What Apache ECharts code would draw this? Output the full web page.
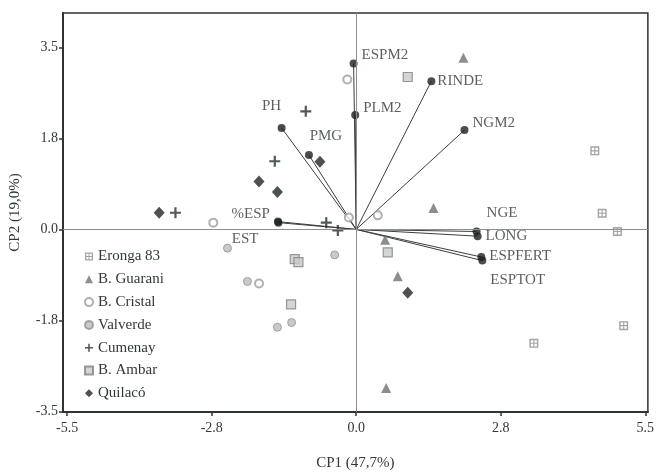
<!DOCTYPE html>
<html>
<head>
<meta charset="utf-8">
<script src="https://cdn.jsdelivr.net/npm/echarts@6/dist/echarts.min.js"></script>
<style>
html,body{margin:0;padding:0;background:#fff;}
#chart{width:657px;height:476px;}
</style>
</head>
<body>
<div id="chart"></div>
<script>
// ---- Data ----
const xTicks = [-5.5, -2.75, 0, 2.75, 5.5];
const yTicks = [-3.5, -1.75, 0, 1.75, 3.5];

const erongaPts   = [[4.54, 1.51], [4.68, 0.31], [4.97, -0.04], [5.09, -1.85], [3.38, -2.19]];
const guaraniPts  = [[2.04, 3.30], [1.47, 0.41], [0.55, -0.20], [0.79, -0.90], [0.57, -3.05]];
const cristalPts  = [[-0.17, 2.88], [-0.14, 0.23], [0.41, 0.27], [-2.72, 0.13], [-1.85, -1.04]];
const valverdePts = [[-2.45, -0.36], [-2.07, -1.00], [-0.41, -0.49], [-1.50, -1.88], [-1.23, -1.79]];
const cumenayPts  = [[-0.96, 2.27], [-1.55, 1.31], [-3.44, 0.32], [-0.57, 0.13], [-0.35, -0.02]];
const ambarPts    = [[0.98, 2.93], [0.60, -0.44], [-1.17, -0.57], [-1.10, -0.63], [-1.24, -1.44]];
const quilacoPts  = [[-1.85, 0.92], [-1.50, 0.72], [-3.75, 0.32], [-0.69, 1.30], [0.98, -1.22]];

const varNames = ['ESPM2', 'PLM2', 'RINDE', 'NGM2', 'PH', 'PMG', '%ESP', 'EST', 'NGE', 'LONG', 'ESPFERT', 'ESPTOT'];
const varX = [-0.05, -0.02, 1.43, 2.06, -1.42, -0.90, -1.49, -1.48, 2.29, 2.31, 2.38, 2.40];
const varY = [3.19, 2.20, 2.85, 1.91, 1.95, 1.43, 0.15, 0.13, -0.04, -0.13, -0.53, -0.60];

// ---- Styles ----
const labelPlace = {
  'ESPM2':   {position: 'right', offset: [0, -8]},
  'PLM2':    {position: 'right', offset: [0, -7]},
  'RINDE':   {position: 'right', offset: [-2, 0]},
  'NGM2':    {position: 'right', offset: [0, -7]},
  'PH':      {position: 'top',   offset: [-10, -6]},
  'PMG':     {position: 'top',   offset: [17, -3]},
  '%ESP':    {position: 'left',  offset: [0, -8]},
  'EST':     {position: 'left',  offset: [-12, 16]},
  'NGE':     {position: 'right', offset: [2, -18]},
  'LONG':    {position: 'right', offset: [0, 0]},
  'ESPFERT': {position: 'right', offset: [0, -1]},
  'ESPTOT':  {position: 'right', offset: [0, 19]}
};

const FONT = 'Liberation Serif';
const TXT = '#2f3938';

const symEronga = 'path://M0,0L10,0L10,10L0,10Z M1.6,1.6L1.6,4.4L4.4,4.4L4.4,1.6Z M5.6,1.6L5.6,4.4L8.4,4.4L8.4,1.6Z M1.6,5.6L1.6,8.4L4.4,8.4L4.4,5.6Z M5.6,5.6L5.6,8.4L8.4,8.4L8.4,5.6Z';
const symPlus = 'path://M4,0L6,0L6,4L10,4L10,6L6,6L6,10L4,10L4,6L0,6L0,4L4,4Z';

const vecLines = varNames.map((n, i) => ({coords: [[0, 0], [varX[i], varY[i]]]}));
const vecPts = varNames.map((n, i) => ({
  name: n,
  value: [varX[i], varY[i]],
  label: Object.assign({show: true, formatter: n}, labelPlace[n])
}));

const chart = echarts.init(document.getElementById('chart'), null, {renderer: 'canvas'});
chart.setOption({
  animation: false,
  backgroundColor: '#fff',
  textStyle: {fontFamily: FONT},
  grid: {left: 63, right: 7, top: 13, bottom: 61, show: true, borderColor: '#2e3433', borderWidth: 1.5, backgroundColor: 'transparent'},
  xAxis: {
    type: 'value', min: -5.58, max: 5.55,
    name: 'CP1 (47,7%)', nameLocation: 'middle', nameGap: 44,
    nameTextStyle: {fontFamily: FONT, fontSize: 15, color: TXT},
    axisLine: {onZero: false, lineStyle: {color: '#2e3433', width: 2}},
    axisTick: {show: true, length: 4, customValues: xTicks, lineStyle: {color: '#2e3433', width: 1.5}},
    axisLabel: {customValues: xTicks, formatter: v => v.toFixed(1), fontFamily: FONT, fontSize: 14, color: TXT, margin: 9},
    splitLine: {show: false}
  },
  yAxis: {
    type: 'value', min: -3.51, max: 4.16,
    name: 'CP2 (19,0%)', nameLocation: 'middle', nameGap: 40, nameRotate: 90,
    nameTextStyle: {fontFamily: FONT, fontSize: 15, color: TXT},
    axisLine: {onZero: false, lineStyle: {color: '#2e3433', width: 2}},
    axisTick: {show: true, length: 4, customValues: yTicks, lineStyle: {color: '#2e3433', width: 1.5}},
    axisLabel: {customValues: yTicks, formatter: v => v.toFixed(1), fontFamily: FONT, fontSize: 14, color: TXT, margin: 5},
    splitLine: {show: false}
  },
  legend: {
    orient: 'vertical', left: 79, top: 244, itemGap: 7.8, itemWidth: 8, itemHeight: 8,
    textStyle: {fontFamily: FONT, fontSize: 15, color: TXT, padding: [0, 0, 0, 0]},
    data: ['Eronga 83', 'B. Guarani', 'B. Cristal', 'Valverde', 'Cumenay', 'B. Ambar', 'Quilacó']
  },
  series: [
    {
      type: 'lines', coordinateSystem: 'cartesian2d', polyline: false, silent: true,
      lineStyle: {color: '#3a3f3e', width: 1, opacity: 1},
      data: vecLines, z: 2,
      markLine: {
        silent: true, symbol: 'none', label: {show: false},
        lineStyle: {color: '#8a8f8e', width: 1, type: 'solid'},
        data: [{xAxis: 0}, {yAxis: 0}]
      }
    },
    {name: 'Eronga 83', type: 'scatter', symbol: symEronga, symbolSize: 9,
     itemStyle: {color: '#8a8e8c'}, data: erongaPts, z: 3},
    {name: 'B. Guarani', type: 'scatter', symbol: 'triangle', symbolSize: 10,
     itemStyle: {color: '#6c7371'}, data: guaraniPts, z: 3},
    {name: 'B. Cristal', type: 'scatter', symbol: 'emptyCircle', symbolSize: 8,
     itemStyle: {color: '#9a9e9d', borderWidth: 1.2}, data: cristalPts, z: 3},
    {name: 'Valverde', type: 'scatter', symbol: 'circle', symbolSize: 8,
     itemStyle: {color: '#b9bdbc', borderColor: '#8e9392', borderWidth: 1}, data: valverdePts, z: 3},
    {name: 'Cumenay', type: 'scatter', symbol: symPlus, symbolSize: 11,
     itemStyle: {color: '#263030'}, data: cumenayPts, z: 3},
    {name: 'B. Ambar', type: 'scatter', symbol: 'rect', symbolSize: 9,
     itemStyle: {color: '#c9cccb', borderColor: '#7d8281', borderWidth: 1.2}, data: ambarPts, z: 3},
    {name: 'Quilacó', type: 'scatter', symbol: 'diamond', symbolSize: [11, 12],
     itemStyle: {color: '#1f2726'}, data: quilacoPts, z: 3},
    {
      type: 'scatter', symbol: 'circle', symbolSize: 8, z: 4,
      itemStyle: {color: '#1c2221'},
      label: {fontFamily: FONT, fontSize: 15, color: TXT, distance: 4},
      data: vecPts
    }
  ]
});
</script>
</body>
</html>
